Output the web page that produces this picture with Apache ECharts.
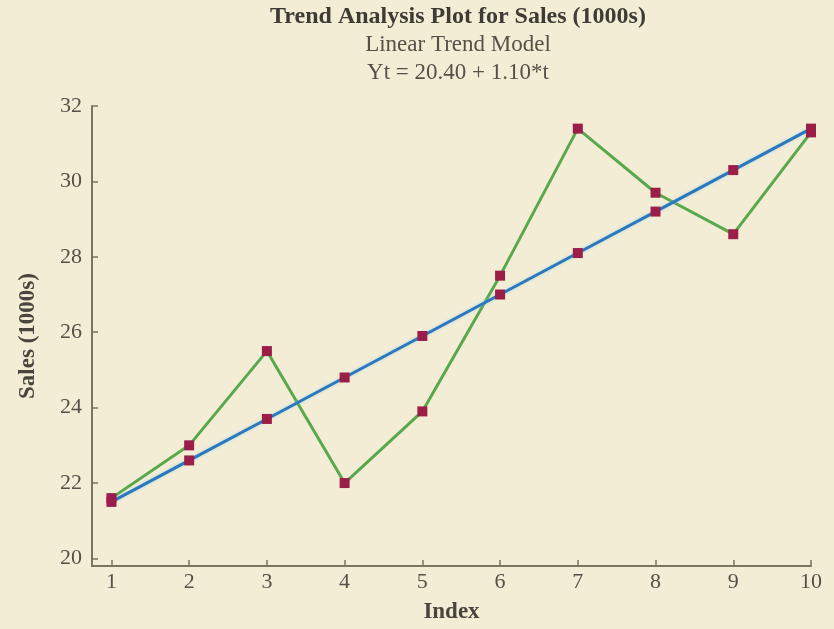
<!DOCTYPE html>
<html>
<head>
<meta charset="utf-8">
<script src="https://cdn.jsdelivr.net/npm/echarts@6/dist/echarts.min.js"></script>
<style>
  html, body { margin: 0; padding: 0; background: #f3edd6; }
  #chart { width: 834px; height: 629px; }
</style>
</head>
<body>
<div id="chart"></div>
<script>
var indexValues = [1, 2, 3, 4, 5, 6, 7, 8, 9, 10];
var salesActual = [21.6, 23.0, 25.5, 22.0, 23.9, 27.5, 31.4, 29.7, 28.6, 31.3];
var salesTrend = [21.5, 22.6, 23.7, 24.8, 25.9, 27.0, 28.1, 29.2, 30.3, 31.4];
var yTicks = [20, 22, 24, 26, 28, 30, 32];

var serif = '"Liberation Serif", "DejaVu Serif", serif';
var axisColor = '#7a7460';
var textColor = '#555048';

function pairs(xs, ys) {
    return xs.map(function (x, i) { return [x, ys[i]]; });
}

var myChart = echarts.init(document.getElementById('chart'));

myChart.setOption({
    backgroundColor: '#f3edd6',
    animation: false,
    title: [
        {
            text: 'Trend Analysis Plot for Sales (1000s)',
            left: 453, top: 0, textAlign: 'center',
            textStyle: { fontFamily: serif, fontSize: 24, fontWeight: 'bold', color: '#3e3a34' }
        },
        {
            text: 'Linear Trend Model',
            left: 453, top: 28, textAlign: 'center',
            textStyle: { fontFamily: serif, fontSize: 23, fontWeight: 'normal', color: textColor }
        },
        {
            text: 'Yt = 20.40 + 1.10*t',
            left: 453, top: 56, textAlign: 'center',
            textStyle: { fontFamily: serif, fontSize: 23, fontWeight: 'normal', color: textColor }
        }
    ],
    grid: { left: 92, right: 23, top: 106, bottom: 60 },
    xAxis: {
        type: 'value',
        min: 0.75,
        max: 10,
        name: 'Index',
        nameLocation: 'middle',
        nameGap: 35,
        nameTextStyle: { fontFamily: serif, fontSize: 23, fontWeight: 'bold', color: '#4a463e' },
        axisLine: { lineStyle: { color: axisColor, width: 2 } },
        axisTick: { inside: true, length: 6, customValues: indexValues, lineStyle: { color: axisColor, width: 1.5 } },
        axisLabel: {
            customValues: indexValues, margin: 5,
            fontFamily: serif, fontSize: 22, color: textColor
        },
        splitLine: { show: false }
    },
    yAxis: {
        type: 'value',
        min: 19.8,
        max: 32,
        name: 'Sales (1000s)',
        nameLocation: 'middle',
        nameGap: 52,
        nameTextStyle: { fontFamily: serif, fontSize: 23, fontWeight: 'bold', color: '#4a463e' },
        axisLine: { show: true, lineStyle: { color: axisColor, width: 2 } },
        axisTick: { show: true, inside: true, length: 6, customValues: yTicks, lineStyle: { color: axisColor, width: 1.5 } },
        axisLabel: {
            customValues: yTicks, margin: 10,
            fontFamily: serif, fontSize: 22, color: textColor
        },
        splitLine: { show: false }
    },
    series: [
        {
            name: 'Actual',
            type: 'line',
            data: pairs(indexValues, salesActual),
            symbol: 'rect',
            symbolSize: 10,
            lineStyle: { color: '#5aa84c', width: 3 },
            itemStyle: { color: '#9b1e48' }
        },
        {
            name: 'Fits',
            type: 'line',
            data: pairs(indexValues, salesTrend),
            symbol: 'rect',
            symbolSize: 10,
            lineStyle: { color: '#2c78be', width: 3, shadowColor: 'rgba(120,200,230,0.6)', shadowBlur: 3 },
            itemStyle: { color: '#9b1e48' }
        }
    ]
});
</script>
</body>
</html>
